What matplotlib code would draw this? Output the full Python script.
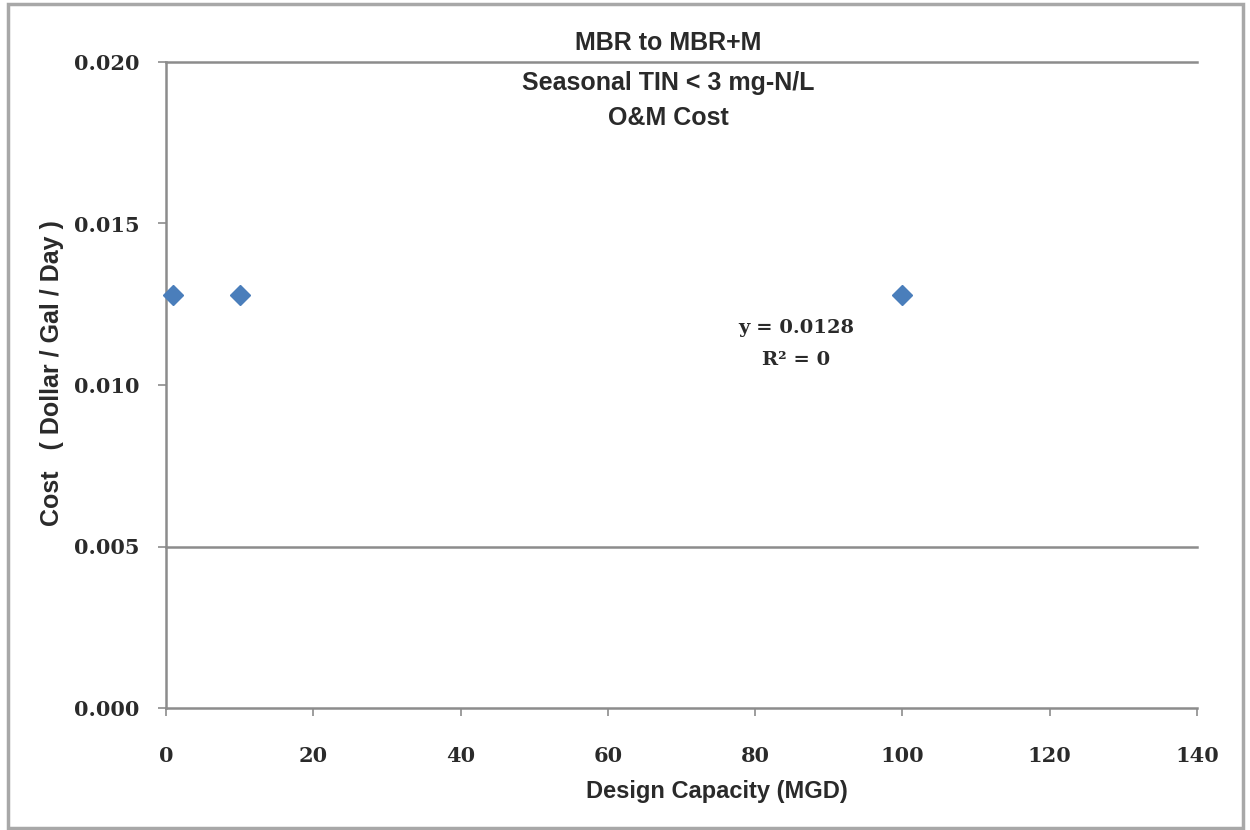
import matplotlib
matplotlib.use("Agg")
import matplotlib.pyplot as plt
from matplotlib.patches import Rectangle

capacity = [1, 10, 100]
cost = [0.0128, 0.0128, 0.0128]
x_ticks = [0, 20, 40, 60, 80, 100, 120, 140]
y_ticks = [0.000, 0.005, 0.010, 0.015, 0.020]
grid_levels = [0.005, 0.020]
title_lines = ["MBR to MBR+M", "Seasonal TIN < 3 mg-N/L", "O&M Cost"]
equation = "y = 0.0128"
r2 = "R² = 0"

W, H = 1250, 830
fig = plt.figure(figsize=(12.5, 8.3), dpi=100)
fig.patch.set_facecolor("white")
fig.add_artist(Rectangle((8 / W, 2 / H), 1235 / W, 824 / H, transform=fig.transFigure,
                         fill=False, edgecolor="#a8a8a8", linewidth=2.5))

ax = fig.add_axes([166 / W, (H - 708) / H, (1197 - 166) / W, (708 - 62) / H])
ax.set_xlim(0, 140)
ax.set_ylim(0, 0.020)
for g in grid_levels:
    ax.axhline(g, color="#8c8c8c", linewidth=1.8, zorder=1, clip_on=False)
ax.plot(capacity, cost, linestyle="none", marker="D", markersize=10,
        color="#4A7EBB", zorder=3, clip_on=False)

for s in ["top", "right"]:
    ax.spines[s].set_visible(False)
for s in ["left", "bottom"]:
    ax.spines[s].set_color("#8c8c8c")
    ax.spines[s].set_linewidth(1.8)

ax.set_xticks(x_ticks)
ax.set_xticklabels([str(v) for v in x_ticks])
ax.set_yticks(y_ticks)
ax.set_yticklabels([f"{v:.3f}" for v in y_ticks])
ax.tick_params(axis="both", direction="out", length=6, width=1.2, color="#8c8c8c",
               labelsize=15, labelcolor="#2a2a2a")
for lab in ax.get_xticklabels() + ax.get_yticklabels():
    lab.set_fontfamily("DejaVu Serif")
    lab.set_fontweight("bold")
ax.tick_params(axis="x", pad=21)
ax.tick_params(axis="y", pad=13)

txt = dict(color="#2a2a2a", fontfamily="Liberation Sans", fontweight="bold")
fig.text(717 / W, 1 - 791 / H, "Design Capacity (MGD)", ha="center", va="center",
         fontsize=17, **txt)
fig.text(52 / W, 1 - 373 / H, "Cost   ( Dollar / Gal / Day )", ha="center", va="center",
         rotation=90, fontsize=18, **txt)

for t, y in zip(title_lines, [43, 83, 118]):
    fig.text(668 / W, 1 - y / H, t, ha="center", va="center", fontsize=18, **txt)

eq = dict(color="#2a2a2a", fontfamily="DejaVu Serif", fontweight="bold", fontsize=14)
fig.text(796 / W, 1 - 328 / H, equation, ha="center", va="center", **eq)
fig.text(796 / W, 1 - 360 / H, r2, ha="center", va="center", **eq)

fig.savefig("out.png", dpi=100, facecolor="white")
